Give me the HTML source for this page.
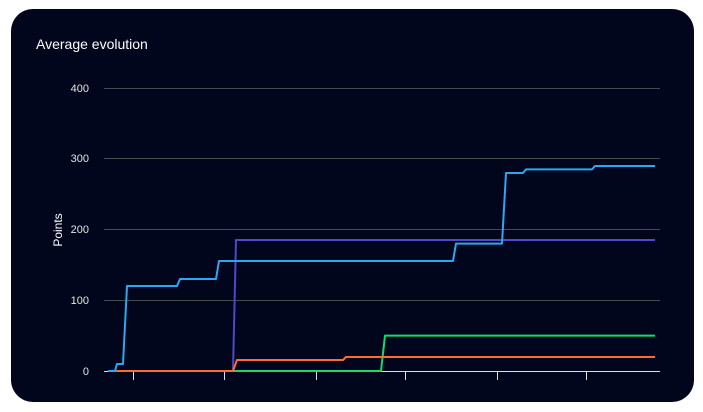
<!DOCTYPE html>
<html><head><style>
html,body{margin:0;padding:0;background:#fff;}
.card{position:absolute;left:11px;top:9px;width:683px;height:393px;background:#01061c;border-radius:22px;}
svg{position:absolute;left:0;top:0;}
</style></head><body>
<div class="card"></div>
<svg width="703" height="412" font-family="Liberation Sans, sans-serif">
<text x="36" y="49" fill="#fff" font-size="14">Average evolution</text>
<g stroke="#4a4a4a" stroke-width="1">
<line x1="104" y1="88.5" x2="660" y2="88.5"/>
<line x1="104" y1="158.5" x2="660" y2="158.5"/>
<line x1="104" y1="229.5" x2="660" y2="229.5"/>
<line x1="104" y1="300.5" x2="660" y2="300.5"/>
</g>
<g fill="#e6e6e6" font-size="11" text-anchor="end">
<text x="89" y="92">400</text><text x="89" y="162">300</text><text x="89" y="233">200</text><text x="89" y="304">100</text><text x="89" y="375">0</text>
</g>
<text transform="translate(62,230) rotate(-90)" fill="#fff" font-size="12" text-anchor="middle">Points</text>
<g stroke="#e0e0e0" stroke-width="1">
<line x1="104" y1="371.5" x2="660" y2="371.5"/>
<line x1="133.5" y1="371" x2="133.5" y2="380"/>
<line x1="224.5" y1="371" x2="224.5" y2="380"/>
<line x1="316.5" y1="371" x2="316.5" y2="380"/>
<line x1="405.5" y1="371" x2="405.5" y2="380"/>
<line x1="497.5" y1="371" x2="497.5" y2="380"/>
<line x1="586.5" y1="371" x2="586.5" y2="380"/>
</g>
<g fill="none" stroke-width="2" stroke-linejoin="round">
<polyline stroke="#16d96a" points="234,371 381,371 385,335.6 655,335.6"/>
<polyline stroke="#5048c8" points="233,371 236,240 655,240"/>
<polyline stroke="#ff6a35" points="108,371 233,371 237,360 343,360 346,357 655,357"/>
<polyline stroke="#2aa8f5" points="108,371 115,371 117,364 123,364 127,286 177,286 180,279 216,279 219,261 453,261 456,243.6 502,243.6 506,173 523,173 526,169.4 592,169.4 595,166 655,166"/>
</g>
</svg>
</body></html>
